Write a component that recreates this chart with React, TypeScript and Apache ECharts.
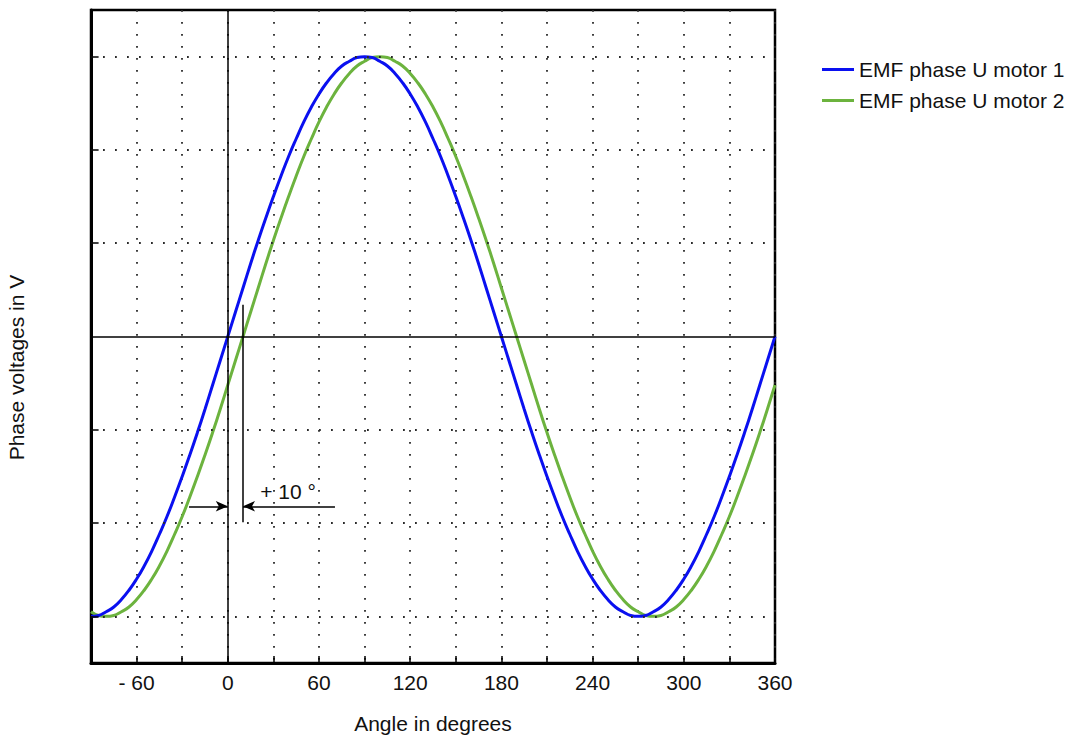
import React, { useEffect, useRef } from "react";
import * as echarts from "echarts";

const angles = [
  -90, -85, -80, -75, -70, -65, -60, -55, -50, -45, -40, -35, -30, -25, -20, -15, -10, -5, 0, 5, 10, 15, 20, 25, 30,
  35, 40, 45, 50, 55, 60, 65, 70, 75, 80, 85, 90, 95, 100, 105, 110, 115, 120, 125, 130, 135, 140, 145, 150, 155,
  160, 165, 170, 175, 180, 185, 190, 195, 200, 205, 210, 215, 220, 225, 230, 235, 240, 245, 250, 255, 260, 265, 270,
  275, 280, 285, 290, 295, 300, 305, 310, 315, 320, 325, 330, 335, 340, 345, 350, 355, 360,
];
const motor1 = [
  -3, -2.99, -2.95, -2.9, -2.82, -2.72, -2.6, -2.46, -2.3, -2.12, -1.93, -1.72, -1.5, -1.27, -1.03, -0.78, -0.52,
  -0.26, 0, 0.26, 0.52, 0.78, 1.03, 1.27, 1.5, 1.72, 1.93, 2.12, 2.3, 2.46, 2.6, 2.72, 2.82, 2.9, 2.95, 2.99, 3,
  2.99, 2.95, 2.9, 2.82, 2.72, 2.6, 2.46, 2.3, 2.12, 1.93, 1.72, 1.5, 1.27, 1.03, 0.78, 0.52, 0.26, 0, -0.26, -0.52,
  -0.78, -1.03, -1.27, -1.5, -1.72, -1.93, -2.12, -2.3, -2.46, -2.6, -2.72, -2.82, -2.9, -2.95, -2.99, -3, -2.99,
  -2.95, -2.9, -2.82, -2.72, -2.6, -2.46, -2.3, -2.12, -1.93, -1.72, -1.5, -1.27, -1.03, -0.78, -0.52, -0.26, 0,
];
const motor2 = [
  -2.95, -2.99, -3, -2.99, -2.95, -2.9, -2.82, -2.72, -2.6, -2.46, -2.3, -2.12, -1.93, -1.72, -1.5, -1.27, -1.03,
  -0.78, -0.52, -0.26, 0, 0.26, 0.52, 0.78, 1.03, 1.27, 1.5, 1.72, 1.93, 2.12, 2.3, 2.46, 2.6, 2.72, 2.82, 2.9, 2.95,
  2.99, 3, 2.99, 2.95, 2.9, 2.82, 2.72, 2.6, 2.46, 2.3, 2.12, 1.93, 1.72, 1.5, 1.27, 1.03, 0.78, 0.52, 0.26, 0,
  -0.26, -0.52, -0.78, -1.03, -1.27, -1.5, -1.72, -1.93, -2.12, -2.3, -2.46, -2.6, -2.72, -2.82, -2.9, -2.95, -2.99,
  -3, -2.99, -2.95, -2.9, -2.82, -2.72, -2.6, -2.46, -2.3, -2.12, -1.93, -1.72, -1.5, -1.27, -1.03, -0.78, -0.52,
];
const seriesNames = ["EMF phase U motor 1", "EMF phase U motor 2"];
const yGridValues = [-3, -2, -1, 1, 2, 3];
const shiftDeg = 10;
const shiftLabel = "+ 10 °";

const X_MIN = -90;
const X_MAX = 360;
const Y_MIN = -3.5;
const Y_MAX = 3.5;

const FONT = "Liberation Sans, Arial, sans-serif";
const FS = 21;
const dotted = { color: "#2a2a2a", width: 1.8, type: [1.8, 10.2] as number[] };

export default function App() {
  const ref = useRef<HTMLDivElement>(null);
  useEffect(() => {
    if (!ref.current) return;
    const chart = echarts.init(ref.current, null, { renderer: "svg" });
    const plain = { symbol: "none", label: { show: false }, emphasis: { disabled: true } };
    chart.setOption({
      animation: false,
      backgroundColor: "#fff",
      textStyle: { fontFamily: FONT },
      grid: {
        left: 91,
        right: 304,
        top: 10,
        bottom: 74,
        outerBoundsMode: "none",
        containLabel: false,
        show: true,
        borderColor: "#000",
        borderWidth: 2.5,
        backgroundColor: "transparent",
      },
      legend: {
        data: seriesNames,
        orient: "vertical",
        left: 817,
        top: 54,
        icon: "rect",
        itemWidth: 32,
        itemHeight: 3,
        itemGap: 10,
        textStyle: { fontFamily: FONT, fontSize: FS, color: "#111" },
        selectedMode: false,
      },
      xAxis: {
        type: "value",
        min: X_MIN,
        max: X_MAX,
        interval: 30,
        name: "Angle in degrees",
        nameLocation: "middle",
        nameGap: 50,
        nameTextStyle: { fontFamily: FONT, fontSize: FS, color: "#111" },
        axisLine: { show: true, onZero: false, lineStyle: { color: "#000", width: 3 } },
        axisTick: { show: true, inside: true, length: 7, lineStyle: { color: "#000", width: 1.5 } },
        axisLabel: {
          fontFamily: FONT,
          fontSize: FS,
          color: "#111",
          margin: 9,
          formatter: (v: number) => (v % 60 === 0 ? (v < 0 ? "- " + -v : String(v)) : ""),
        },
        splitLine: { show: true, lineStyle: dotted },
      },
      yAxis: {
        type: "value",
        min: Y_MIN,
        max: Y_MAX,
        name: "Phase voltages in V",
        nameLocation: "middle",
        nameGap: 64,
        nameTextStyle: { fontFamily: FONT, fontSize: FS, color: "#111", padding: [0, 62, 0, 0] },
        axisLine: { show: true, onZero: false, lineStyle: { color: "#000", width: 3 } },
        axisTick: { show: false },
        axisLabel: { show: false },
        splitLine: { show: false },
      },
      series: [
        {
          type: "line",
          data: [],
          z: 1,
          silent: true,
          markLine: {
            ...plain,
            silent: true,
            lineStyle: dotted,
            data: yGridValues.map((v) => ({ yAxis: v })),
          },
        },
        {
          type: "line",
          data: [],
          z: 2,
          silent: true,
          markLine: {
            ...plain,
            silent: true,
            lineStyle: { color: "#000", width: 1.5, type: "solid" },
            data: [
              { yAxis: 0 },
              { xAxis: 0 },
              ...yGridValues.map((v) => [{ coord: [X_MIN, v] }, { coord: [X_MIN + 5, v] }]),
            ],
          },
        },
        {
          name: seriesNames[0],
          type: "line",
          data: angles.map((a, i) => [a, motor1[i]]),
          smooth: true,
          showSymbol: false,
          symbol: "none",
          color: "#0a10f0",
          lineStyle: { color: "#0a10f0", width: 3 },
          z: 4,
        },
        {
          name: seriesNames[1],
          type: "line",
          data: angles.map((a, i) => [a, motor2[i]]),
          smooth: true,
          showSymbol: false,
          symbol: "none",
          color: "#6cb33e",
          lineStyle: { color: "#6cb33e", width: 3 },
          z: 3,
          markLine: {
            silent: true,
            label: { show: false },
            emphasis: { disabled: true },
            lineStyle: { color: "#000", width: 1.5, type: "solid" },
            symbol: ["none", "arrow"],
            symbolSize: [8, 12],
            data: [
              [
                { coord: [shiftDeg, 0.34], symbol: "none" },
                { coord: [shiftDeg, -1.99], symbol: "none" },
              ],
              [
                { coord: [-25.5, -1.82], symbol: "none" },
                { coord: [0, -1.82], symbol: "arrow" },
              ],
              [
                { coord: [70.5, -1.82], symbol: "none" },
                { coord: [shiftDeg, -1.82], symbol: "arrow" },
              ],
            ],
          },
          markPoint: {
            silent: true,
            symbol: "circle",
            symbolSize: 1,
            itemStyle: { color: "transparent" },
            label: {
              show: true,
              position: "right",
              distance: 0,
              formatter: shiftLabel,
              fontFamily: FONT,
              fontSize: FS,
              color: "#111",
            },
            data: [{ coord: [21, -1.66] }],
          },
        },
      ],
    });
    return () => chart.dispose();
  }, []);
  return (
    <div
      ref={ref}
      style={{ position: "fixed", left: 0, top: 0, width: 1079, height: 737, background: "#fff" }}
    />
  );
}
